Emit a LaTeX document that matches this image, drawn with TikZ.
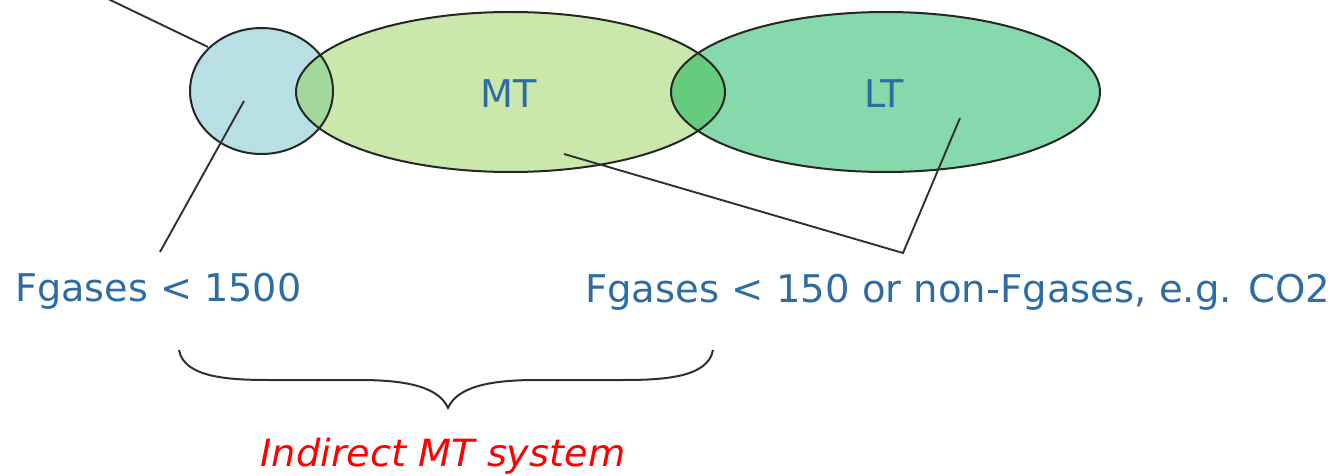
\documentclass[tikz,border=0pt]{standalone}
\usepackage{fontspec}
\setmainfont{DejaVu Sans}
\usetikzlibrary{shapes.geometric}
\definecolor{txtblue}{HTML}{2E6DA4}
\definecolor{circfill}{HTML}{B8DFE3}
\definecolor{mtfill}{HTML}{CAE8AB}
\definecolor{ltfill}{HTML}{85D9AA}
\definecolor{ovA}{HTML}{A3D89B}
\definecolor{ovB}{HTML}{67CB7E}
\definecolor{linegray}{HTML}{303030}
\tikzset{
  blob/.style={ellipse, inner sep=0pt, draw=none},
  outline/.style={draw=black!85, line width=2pt},
  leader/.style={draw=linegray, line width=1.9pt},
  bigtext/.style={font=\fontsize{38.2}{40}\selectfont, text=txtblue, inner sep=0pt},
}
\begin{document}
\begin{tikzpicture}[x=1pt,y=-1pt]
\useasboundingbox (0,0) rectangle (1331,476);
% fills
\node[blob, fill=circfill, minimum width=143pt, minimum height=126pt] (hi) at (261.5,91) {};
\node[blob, fill=mtfill, minimum width=429pt, minimum height=160pt] (mt) at (510.5,92) {};
\node[blob, fill=ltfill, minimum width=429pt, minimum height=160pt] (lt) at (885.5,92) {};
% overlaps
\begin{scope}
\clip (261.5,91) ellipse [x radius=71.5, y radius=63];
\fill[ovA] (510.5,92) ellipse [x radius=214.5, y radius=80];
\end{scope}
\begin{scope}
\clip (510.5,92) ellipse [x radius=214.5, y radius=80];
\fill[ovB] (885.5,92) ellipse [x radius=214.5, y radius=80];
\end{scope}
% outlines
\draw[outline] (261.5,91) ellipse [x radius=71.5, y radius=63];
\draw[outline] (510.5,92) ellipse [x radius=214.5, y radius=80];
\draw[outline] (885.5,92) ellipse [x radius=214.5, y radius=80];
% texts in ellipses
\node[bigtext] (mtlabel) at (509,93.5) {MT};
\node[bigtext] (ltlabel) at (884,93.5) {LT};
% labels
\node[bigtext, anchor=base west] (fg1) at (15,301) {Fgases < 1500};
\node[bigtext, anchor=base west] (fg2) at (585,302) {\scalebox{1.01}[1]{Fgases < 150 or non-Fgases, e.g. CO2}};
\node[font=\fontsize{37.5}{40}\selectfont\itshape, text=red, inner sep=0pt, anchor=base] (ind) at (443,466) {\scalebox{1.02}[1]{Indirect MT system}};
% connector coordinates
\coordinate (topfree) at (104,-3);
\coordinate (hiedge) at (208,47);
\coordinate (hiin) at (244,101);
\coordinate (fg1top) at (160,252);
\coordinate (mtin) at (564,154);
\coordinate (vertex) at (903,253);
\coordinate (ltin) at (960,118);
\draw[leader] (topfree) -- (hiedge);
\draw[leader] (hiin) -- (fg1top);
\draw[leader, line join=miter] (mtin) -- (vertex) -- (ltin);
% brace
\coordinate (brL) at (179,350);
\coordinate (brTip) at (448,408);
\coordinate (brR) at (713,350);
\draw[leader, line width=2pt] (brL) .. controls (184,378) and (230,380) .. (270,380)
  -- (360,380) .. controls (415,380) and (440,390) .. (brTip)
  .. controls (456,390) and (481,380) .. (536,380)
  -- (622,380) .. controls (662,380) and (708,378) .. (brR);
\end{tikzpicture}
\end{document}
